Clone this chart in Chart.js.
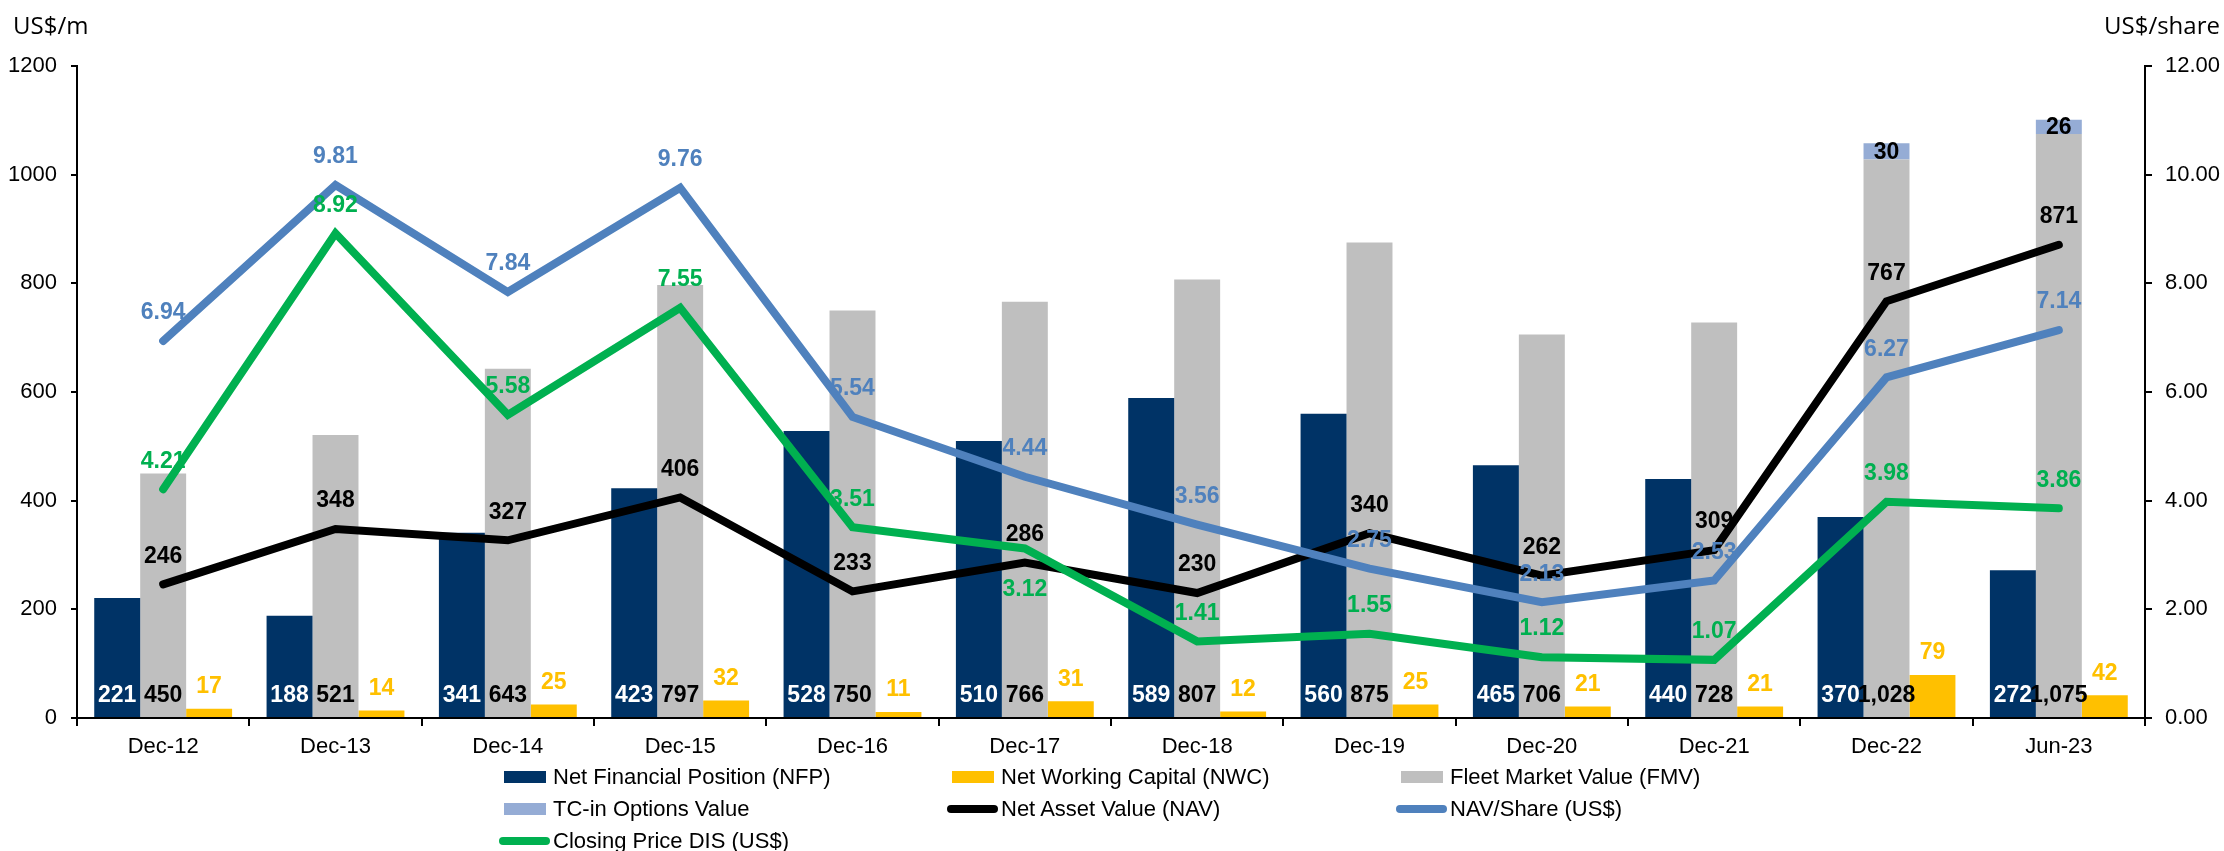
<!DOCTYPE html>
<html lang="en">
<head>
    <meta charset="UTF-8">
    <title>NAV Evolution</title>
    <style>
        body {
            margin: 0;
            padding: 0;
            background: #fff;
            overflow: hidden;
            font-family: "Liberation Sans", Arial, sans-serif;
        }
        #wrap {
            position: relative;
            width: 2224px;
            height: 851px;
        }
        .unit {
            position: absolute;
            top: 10px;
            font-family: "Open Sans", "Noto Sans", sans-serif;
            font-size: 24px;
            line-height: 30px;
            color: #000;
            white-space: nowrap;
        }
        .legend-item {
            position: absolute;
            height: 26px;
            line-height: 26px;
            font-size: 22px;
            color: #000;
            white-space: nowrap;
        }
        .legend-item .sw {
            position: absolute;
            top: 50%;
        }
        .legend-item .txt {
            position: absolute;
            top: 0;
        }
    </style>
    <script src="https://cdn.jsdelivr.net/npm/chart.js"></script>
</head>
<body>
    <div id="wrap">
        <canvas id="navChart" width="2224" height="851"></canvas>
        <div class="unit" style="left:13px">US$/m</div>
        <div class="unit" style="left:2104px">US$/share</div>
        <div id="legend"></div>
    </div>

    <script>
        // periods and series, US$ million unless noted
        var periods = ['Dec-12', 'Dec-13', 'Dec-14', 'Dec-15', 'Dec-16', 'Dec-17',
                       'Dec-18', 'Dec-19', 'Dec-20', 'Dec-21', 'Dec-22', 'Jun-23'];
        var netFinancialPosition = [221, 188, 341, 423, 528, 510, 589, 560, 465, 440, 370, 272];
        var fleetMarketValue = [450, 521, 643, 797, 750, 766, 807, 875, 706, 728, 1028, 1075];
        var tcInOptions = [null, null, null, null, null, null, null, null, null, null, 30, 26];
        var netWorkingCapital = [17, 14, 25, 32, 11, 31, 12, 25, 21, 21, 79, 42];
        var netAssetValue = [246, 348, 327, 406, 233, 286, 230, 340, 262, 309, 767, 871];
        // US$ per share
        var navPerShare = [6.94, 9.81, 7.84, 9.76, 5.54, 4.44, 3.56, 2.75, 2.13, 2.53, 6.27, 7.14];
        var closingPrice = [4.21, 8.92, 5.58, 7.55, 3.51, 3.12, 1.41, 1.55, 1.12, 1.07, 3.98, 3.86];

        var leftTicks = [0, 200, 400, 600, 800, 1000, 1200];
        var rightTicks = [0, 2, 4, 6, 8, 10, 12];

        var NAVY = '#003366', GOLD = '#FFC000', GREY = '#BFBFBF', TC = '#95ACD5',
            BLUE = '#4F81BD', GREEN = '#00B050';

        function plain(v) { return String(v); }
        function thousands(v) { return v.toLocaleString('en-US'); }
        function twoDp(v) { return v.toFixed(2); }

        // draws the value next to every bar / point
        var valueLabels = {
            id: 'valueLabels',
            afterDatasetsDraw: function(chart) {
                var ctx = chart.ctx;
                chart.data.datasets.forEach(function(ds, i) {
                    var meta = chart.getDatasetMeta(i);
                    var opt = ds.labelStyle;
                    if (!opt || meta.hidden) return;
                    ctx.save();
                    ctx.font = 'bold 23px "Liberation Sans", Arial, sans-serif';
                    ctx.fillStyle = opt.color;
                    ctx.textAlign = 'center';
                    ctx.textBaseline = 'middle';
                    meta.data.forEach(function(el, j) {
                        var v = ds.data[j];
                        if (v === null || v === undefined) return;
                        var y;
                        if (opt.pos === 'base') y = el.base - 21;
                        else if (opt.pos === 'top') y = el.y - 22;
                        else if (opt.pos === 'center') y = (el.y + el.base) / 2 + 1;
                        else y = el.y + ((opt.below || []).indexOf(j) >= 0 ? 41 : -28);
                        ctx.fillText(opt.format(v), el.x, y);
                    });
                    ctx.restore();
                });
            }
        };

        Chart.defaults.font.family = '"Liberation Sans", Arial, sans-serif';
        Chart.defaults.font.size = 22;
        Chart.defaults.color = '#000';

        var lineBase = {
            type: 'line',
            borderWidth: 8,
            pointRadius: 0,
            pointHoverRadius: 0,
            borderCapStyle: 'round',
            borderJoinStyle: 'miter',
            tension: 0,
            fill: false
        };

        var datasets = [
            { label: 'Net Financial Position (NFP)', data: netFinancialPosition, backgroundColor: NAVY,
              stack: 'nfp', order: 10, labelStyle: { pos: 'base', color: '#fff', format: plain } },
            { label: 'Fleet Market Value (FMV)', data: fleetMarketValue, backgroundColor: GREY,
              stack: 'fmv', order: 10, labelStyle: { pos: 'base', color: '#000', format: thousands } },
            { label: 'TC-in Options Value', data: tcInOptions, backgroundColor: TC,
              stack: 'fmv', order: 10, labelStyle: { pos: 'center', color: '#000', format: plain } },
            { label: 'Net Working Capital (NWC)', data: netWorkingCapital, backgroundColor: GOLD,
              stack: 'nwc', order: 10, labelStyle: { pos: 'top', color: GOLD, format: plain } },
            Object.assign({}, lineBase, { label: 'Net Asset Value (NAV)', data: netAssetValue,
              borderColor: '#000', backgroundColor: '#000', yAxisID: 'y', stack: 'nav', order: 3,
              labelStyle: { pos: 'point', color: '#000', format: plain } }),
            Object.assign({}, lineBase, { label: 'NAV/Share (US$)', data: navPerShare,
              borderColor: BLUE, backgroundColor: BLUE, yAxisID: 'y1', order: 2,
              labelStyle: { pos: 'point', color: BLUE, format: twoDp } }),
            Object.assign({}, lineBase, { label: 'Closing Price DIS (US$)', data: closingPrice,
              borderColor: GREEN, backgroundColor: GREEN, yAxisID: 'y1', order: 1,
              labelStyle: { pos: 'point', color: GREEN, format: twoDp, below: [5] } })
        ];

        var axisGrid = { drawOnChartArea: false, drawTicks: true, color: '#000', lineWidth: 2 };
        var axisBorder = { display: true, color: '#000', width: 2 };

        var chart = new Chart(document.getElementById('navChart'), {
            type: 'bar',
            data: { labels: periods, datasets: datasets },
            plugins: [valueLabels],
            options: {
                responsive: false,
                animation: false,
                categoryPercentage: 0.8,
                barPercentage: 1.0,
                layout: { padding: { top: 66, left: 0, right: 0, bottom: 83 } },
                plugins: {
                    legend: { display: false },
                    tooltip: { enabled: false }
                },
                scales: {
                    x: {
                        stacked: true,
                        grid: Object.assign({}, axisGrid, { offset: true, tickLength: 8 }),
                        border: axisBorder,
                        ticks: { padding: 8, font: { size: 22 }, maxRotation: 0 },
                        afterFit: function(scale) { scale.height = 50; }
                    },
                    y: {
                        stacked: true,
                        position: 'left',
                        min: leftTicks[0],
                        max: leftTicks[leftTicks.length - 1],
                        afterBuildTicks: function(scale) {
                            scale.ticks = leftTicks.map(function(v) { return { value: v }; });
                        },
                        grid: Object.assign({}, axisGrid, { tickLength: 6 }),
                        border: axisBorder,
                        ticks: {
                            padding: 14,
                            font: { size: 22 },
                            callback: function(v) { return String(v); }
                        },
                        afterFit: function(scale) { scale.width = 77; }
                    },
                    y1: {
                        position: 'right',
                        min: rightTicks[0],
                        max: rightTicks[rightTicks.length - 1],
                        afterBuildTicks: function(scale) {
                            scale.ticks = rightTicks.map(function(v) { return { value: v }; });
                        },
                        grid: Object.assign({}, axisGrid, { tickLength: 7 }),
                        border: axisBorder,
                        ticks: {
                            padding: 13,
                            font: { size: 22 },
                            callback: function(v) { return Number(v).toFixed(2); }
                        },
                        afterFit: function(scale) { scale.width = 79; }
                    }
                }
            }
        });

        // legend in three columns, laid out like the source report
        var legendOrder = [0, 3, 1, 2, 4, 5, 6];
        var legendCols = [504, 952, 1401];
        var legendRows = [777, 809, 841];
        var legendBox = document.getElementById('legend');
        legendOrder.forEach(function(dsIndex, k) {
            var ds = chart.data.datasets[dsIndex];
            var item = document.createElement('div');
            item.className = 'legend-item';
            item.style.left = legendCols[k % 3] + 'px';
            item.style.top = (legendRows[Math.floor(k / 3)] - 13) + 'px';
            var sw = document.createElement('span');
            sw.className = 'sw';
            if (ds.type === 'line') {
                sw.style.left = '-5px';
                sw.style.width = '51px';
                sw.style.height = '8px';
                sw.style.marginTop = '-4px';
                sw.style.borderRadius = '4px';
                sw.style.background = ds.borderColor;
            } else {
                sw.style.left = '0px';
                sw.style.width = '42px';
                sw.style.height = '12px';
                sw.style.marginTop = '-6px';
                sw.style.background = ds.backgroundColor;
            }
            var txt = document.createElement('span');
            txt.className = 'txt';
            txt.style.left = '49px';
            txt.textContent = ds.label;
            item.appendChild(sw);
            item.appendChild(txt);
            legendBox.appendChild(item);
        });
    </script>
</body>
</html>
